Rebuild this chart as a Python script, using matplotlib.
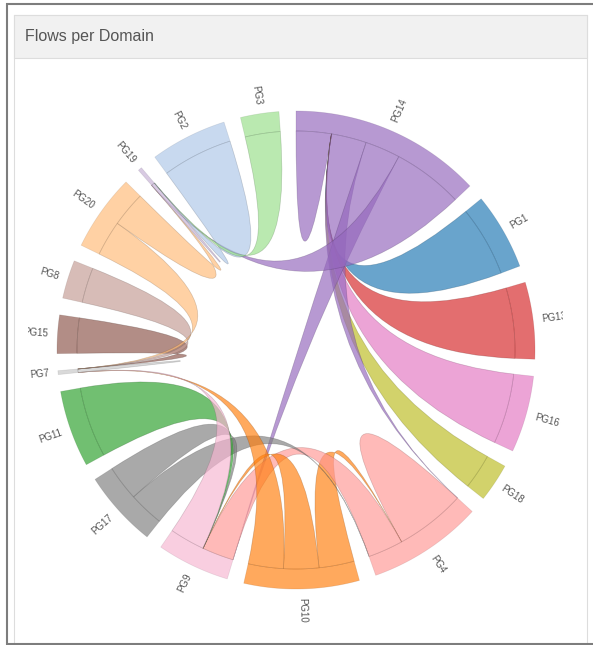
import numpy as np
import matplotlib
matplotlib.use("Agg")
import matplotlib.pyplot as plt
from matplotlib.path import Path
from matplotlib.patches import PathPatch, Rectangle
import matplotlib.colors as mcolors

# groups, in the order they sit round the circle (clockwise from the top)
names = ["PG14", "PG1", "PG13", "PG16", "PG18", "PG4", "PG10", "PG9", "PG17",
         "PG11", "PG7", "PG15", "PG8", "PG20", "PG19", "PG2", "PG3"]
colors = ["#9467bd", "#1f77b4", "#d62728", "#e377c2", "#bcbd22", "#ff9896",
          "#ff7f0e", "#f7b6d2", "#7f7f7f", "#2ca02c", "#c7c7c7", "#8c564b",
          "#c49c94", "#ffbb78", "#c5b0d5", "#aec7e8", "#98df8a"]

# flows: source -> target, value
flow_src = ["PG14", "PG14", "PG14", "PG14", "PG1", "PG13", "PG16", "PG18",
            "PG4", "PG4", "PG10", "PG10", "PG10", "PG9", "PG9", "PG17", "PG17",
            "PG11", "PG7", "PG15", "PG8", "PG20", "PG20", "PG19", "PG2", "PG3"]
flow_dst = ["PG14", "PG4", "PG9", "PG19", "PG14", "PG14", "PG14", "PG14",
            "PG4", "PG9", "PG4", "PG9", "PG7", "PG4", "PG7", "PG4", "PG9",
            "PG9", "PG7", "PG7", "PG7", "PG7", "PG19", "PG19", "PG19", "PG19"]
flow_val = [1, 1, 1, 2, 2, 2, 2, 1,
            2, 1, 1, 1, 1, 0.9, 1, 1, 1,
            2, 0.1, 1, 1, 1, 1, 0.1, 2, 1]

n = len(names)
idx = {nm: i for i, nm in enumerate(names)}
m = np.zeros((n, n))
for s, d, v in zip(flow_src, flow_dst, flow_val):
    m[idx[s], idx[d]] += v

# chord layout (same rules as d3.chord, no sorting)
pad = np.deg2rad(4.1)
k = (2 * np.pi - pad * n) / m.sum()
sub = {}
groups = []
x = 0.0
for i in range(n):
    x0 = x
    for j in range(n):
        sub[(i, j)] = (x, x + m[i, j] * k)
        x += m[i, j] * k
    groups.append((x0, x))
    x += pad

chords = []
for i in range(n):
    for j in range(i, n):
        s, t = (j, i), (i, j)
        if m[j, i] or m[i, j]:
            if m[j, i] < m[i, j]:
                s, t = t, s
            chords.append((s, t))

cx, cy = 296, 350
r_in, r_out = 219, 239


def pt(a, r):
    return (cx + r * np.sin(a), cy - r * np.cos(a))


def arc_pts(a0, a1, r, num=40):
    return [pt(a, r) for a in np.linspace(a0, a1, num)]


def rgba(c, a, f=1.0):
    rgb = np.array(mcolors.to_rgb(c)) * f
    return (*rgb, a)


fig = plt.figure(figsize=(5.93, 6.45), dpi=100)
ax = fig.add_axes([0, 0, 1, 1])
ax.set_xlim(0, 593)
ax.set_ylim(645, 0)
ax.axis("off")

# panel
ax.add_patch(Rectangle((13.5, 14.5), 573, 700, facecolor="white",
                       edgecolor="#dddddd", lw=0.8, zorder=0))
ax.add_patch(Rectangle((13.5, 14.5), 573, 43, facecolor="#f1f1f1",
                       edgecolor="#dddddd", lw=0.8, zorder=0.5))
ax.text(25, 37, "Flows per Domain", fontsize=11.5, color="#555555",
        family="Liberation Sans", va="center", ha="left")
ax.plot([6, 593], [3.5, 3.5], color="#7d7d7d", lw=1.5, solid_capstyle="butt")
ax.plot([7, 7], [3, 645], color="#7d7d7d", lw=1.5, solid_capstyle="butt")
ax.plot([6, 593], [643.5, 643.5], color="#7d7d7d", lw=1.5, solid_capstyle="butt")

clip = Rectangle((28, 62), 535, 575, transform=ax.transData)
alpha = 0.67

# group arcs
for i, (a0, a1) in enumerate(groups):
    verts = arc_pts(a0, a1, r_out) + arc_pts(a1, a0, r_in)
    verts.append(verts[0])
    codes = [Path.MOVETO] + [Path.LINETO] * (len(verts) - 2) + [Path.CLOSEPOLY]
    ax.add_patch(PathPatch(Path(verts, codes), facecolor=rgba(colors[i], alpha),
                           edgecolor=rgba(colors[i], 0.2, 0.6), lw=0.5, zorder=2))

# ribbons
for (si, sj), (ti, tj) in chords:
    sa0, sa1 = sub[(si, sj)]
    ta0, ta1 = sub[(ti, tj)]
    verts = arc_pts(sa0, sa1, r_in)
    codes = [Path.MOVETO] + [Path.LINETO] * (len(verts) - 1)
    if (si, sj) != (ti, tj):
        verts += [(cx, cy), pt(ta0, r_in)]
        codes += [Path.CURVE3, Path.CURVE3]
        tv = arc_pts(ta0, ta1, r_in)[1:]
        verts += tv
        codes += [Path.LINETO] * len(tv)
    verts += [(cx, cy), pt(sa0, r_in), pt(sa0, r_in)]
    codes += [Path.CURVE3, Path.CURVE3, Path.CLOSEPOLY]
    ax.add_patch(PathPatch(Path(verts, codes), facecolor=rgba(colors[si], alpha),
                           edgecolor=rgba(colors[si], 0.3, 0.5), lw=0.5, zorder=3))

# labels
for i, (a0, a1) in enumerate(groups):
    a = (a0 + a1) / 2
    deg = np.rad2deg(a)
    lx, ly = pt(a, r_out + 9)
    if deg < 180:
        rot, ha = 90 - deg, "left"
    else:
        rot, ha = 270 - deg, "right"
    t = ax.text(lx, ly, names[i], fontsize=7, color="#555555", rotation=rot,
                rotation_mode="anchor", ha=ha, va="center",
                family="Liberation Sans", zorder=4, clip_on=True)
    t.set_clip_path(clip)

fig.savefig("out.png", dpi=100)
